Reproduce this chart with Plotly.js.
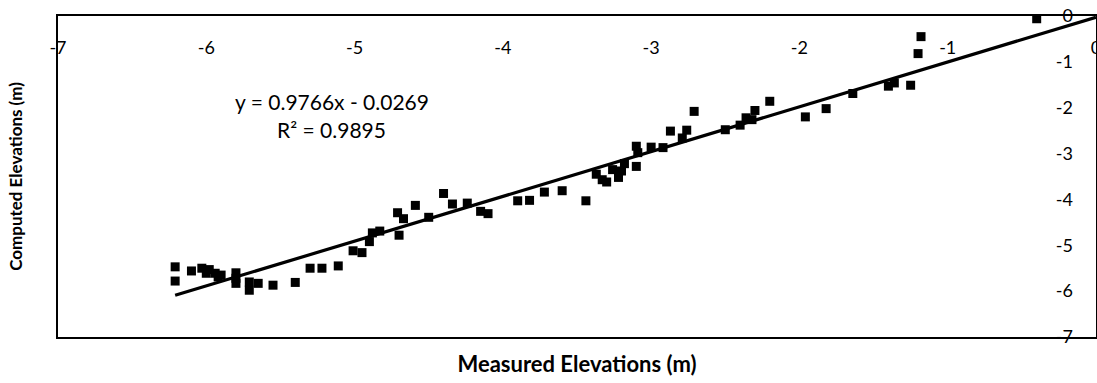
<!DOCTYPE html>
<html>
<head>
<meta charset="utf-8">
<script src="https://cdn.plot.ly/plotly-3.0.1.min.js"></script>
<style>html,body{margin:0;padding:0;background:#fff;}#chart{width:1097px;height:383px;}</style>
</head>
<body>
<div id="chart"></div>
<script>
const measured = [-6.21,-6.21,-6.10,-6.03,-5.98,-6.00,-5.94,-5.92,-5.90,-5.80,-5.80,-5.80,-5.71,-5.71,-5.65,-5.55,-5.40,-5.30,-5.22,-5.11,
  -5.01,-4.95,-4.90,-4.88,-4.83,-4.71,-4.67,-4.70,-4.59,-4.50,-4.40,-4.34,-4.24,-4.15,-4.10,-3.90,-3.82,-3.72,-3.60,-3.44,
  -3.37,-3.33,-3.30,-3.26,-3.22,-3.20,-3.18,-3.10,-3.10,-3.09,-3.00,-2.92,-2.87,-2.79,-2.76,-2.71,-2.50,-2.40,-2.36,-2.32,
  -2.30,-2.20,-1.96,-1.82,-1.64,-1.40,-1.36,-1.25,-1.20,-1.18,-0.40];
const computed = [-5.47,-5.78,-5.56,-5.50,-5.53,-5.61,-5.61,-5.69,-5.65,-5.60,-5.72,-5.83,-5.80,-5.98,-5.83,-5.87,-5.81,-5.50,-5.50,-5.45,
  -5.12,-5.16,-4.92,-4.73,-4.69,-4.29,-4.42,-4.78,-4.13,-4.39,-3.87,-4.10,-4.08,-4.26,-4.31,-4.03,-4.02,-3.84,-3.81,-4.03,
  -3.45,-3.57,-3.62,-3.35,-3.52,-3.38,-3.22,-3.28,-2.84,-2.98,-2.86,-2.87,-2.51,-2.66,-2.49,-2.08,-2.48,-2.38,-2.22,-2.26,
  -2.06,-1.86,-2.20,-2.02,-1.69,-1.53,-1.46,-1.51,-0.82,-0.45,-0.06];
const slope = 0.9766;
const intercept = -0.0269;
const equationText = "y = 0.9766x - 0.0269";
const r2Text = "R² = 0.9895";
const xTitle = "Measured Elevations (m)";
const yTitle = "Computed Elevations (m)";
const tickVals = [-7,-6,-5,-4,-3,-2,-1,0];
const tickText = ["-7","-6","-5","-4","-3","-2","-1","0"];

const trendX = [Math.min(...measured), 0];
const trendY = trendX.map(v => slope * v + intercept);

const FONT = "Lato, 'DejaVu Sans', sans-serif";

const traces = [
  {x: measured, y: computed, type: 'scatter', mode: 'markers', xaxis: 'x', yaxis: 'y',
   marker: {symbol: 'square', size: 9, color: '#000'}, showlegend: false, hoverinfo: 'x+y'},
  {x: trendX, y: trendY, type: 'scatter', mode: 'lines', xaxis: 'x2', yaxis: 'y2',
   line: {color: '#000', width: 3.2}, showlegend: false, hoverinfo: 'skip'}
];

const layout = {
  width: 1097, height: 383,
  margin: {l: 58, r: 1, t: 16, b: 46, pad: 0},
  paper_bgcolor: '#fff', plot_bgcolor: '#fff',
  font: {family: FONT, color: '#000', size: 18},
  showlegend: false,
  xaxis: {
    range: [-7, 0], side: 'bottom', showticklabels: false, ticks: '', showgrid: false, zeroline: false,
    showline: true, mirror: true, linecolor: '#000', linewidth: 2,
    title: {text: xTitle, font: {family: FONT, size: 22, color: '#000', weight: 'bold'}, standoff: 19}
  },
  yaxis: {
    range: [-7, 0], side: 'left', showticklabels: false, ticks: '', showgrid: false, zeroline: false,
    showline: true, mirror: true, linecolor: '#000', linewidth: 2,
    title: {text: yTitle, font: {family: FONT, size: 17, color: '#000', weight: 'bold'}, standoff: 29}
  },
  xaxis2: {
    range: [-7, 0], overlaying: 'x', anchor: 'y2', side: 'top', tickvals: tickVals, ticktext: tickText, ticks: '',
    ticklabelposition: 'inside', ticklabeloverflow: 'allow', ticklabelstandoff: 22,
    showgrid: false, zeroline: false, showline: false, tickfont: {family: FONT, size: 18, color: '#000'}
  },
  yaxis2: {
    range: [-7, 0], overlaying: 'y', anchor: 'x2', side: 'right', tickvals: tickVals, ticktext: tickText, ticks: '',
    ticklabelposition: 'inside', ticklabeloverflow: 'allow', ticklabelstandoff: 20,
    showgrid: false, zeroline: false, showline: false, tickfont: {family: FONT, size: 18, color: '#000'}
  },
  annotations: [
    {x: -5.155, y: -1.86, xref: 'x', yref: 'y', text: equationText, showarrow: false,
     font: {family: FONT, size: 21, color: '#000'}},
    {x: -5.155, y: -2.47, xref: 'x', yref: 'y', text: r2Text, showarrow: false,
     font: {family: FONT, size: 21, color: '#000'}}
  ]
};

Plotly.newPlot('chart', traces, layout, {displayModeBar: false, staticPlot: true});
</script>
</body>
</html>
